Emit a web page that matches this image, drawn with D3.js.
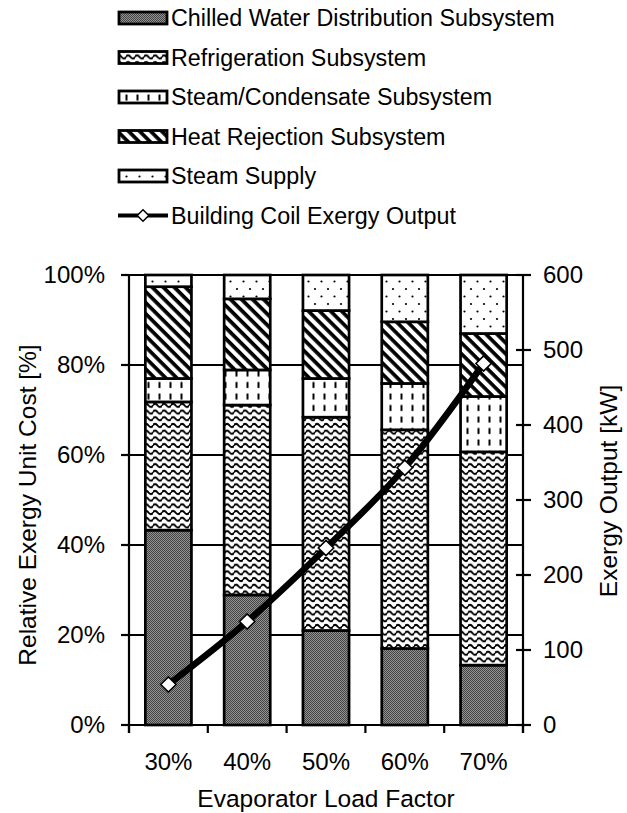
<!DOCTYPE html>
<html>
<head>
<meta charset="utf-8">
<script src="https://cdn.jsdelivr.net/npm/d3@7"></script>
<style>
  html, body { margin: 0; padding: 0; background: #fff; }
  svg { display: block; font-family: "Liberation Sans", Arial, sans-serif; }
</style>
</head>
<body>
<svg id="chart" width="627" height="813"></svg>
<script>
// Evaporator load factor categories
const categories = ["30%", "40%", "50%", "60%", "70%"];

// Relative exergy unit cost shares [%] per subsystem
const chilledWater    = [43.3, 28.9, 21.0, 17.0, 13.3];
const refrigeration   = [28.5, 42.2, 47.4, 48.6, 47.4];
const steamCondensate = [5.2, 7.8, 8.6, 10.3, 12.3];
const heatRejection   = [20.4, 15.8, 15.1, 13.7, 14.0];
const steamSupply     = [2.6, 5.3, 7.9, 10.4, 13.0];

// Building coil exergy output [kW]
const exergyOutput = [54, 138, 236, 343, 482];

// Axis ticks
const leftTicks = [0, 20, 40, 60, 80, 100];
const rightTicks = [0, 100, 200, 300, 400, 500, 600];

const seriesNames = [
  "Chilled Water Distribution Subsystem",
  "Refrigeration Subsystem",
  "Steam/Condensate Subsystem",
  "Heat Rejection Subsystem",
  "Steam Supply"
];
const seriesKeys = ["chw", "ref", "stc", "hrj", "sts"];
const lineName = "Building Coil Exergy Output";

const rows = categories.map((c, i) => ({
  cat: c,
  chw: chilledWater[i],
  ref: refrigeration[i],
  stc: steamCondensate[i],
  hrj: heatRejection[i],
  sts: steamSupply[i]
}));

const svg = d3.select("#chart");
const plotLeft = 129, plotRight = 523, plotTop = 275, plotBottom = 725;

const x = d3.scaleBand().domain(categories).range([plotLeft, plotRight])
  .paddingInner(0.415).paddingOuter(0.2075);
const y = d3.scaleLinear().domain([0, 100]).range([plotBottom, plotTop]);
const y2 = d3.scaleLinear().domain([0, 600]).range([plotBottom, plotTop]);

// ---- fill patterns ----
const defs = svg.append("defs");

// fine dithered grey
const pGrey = defs.append("pattern").attr("id", "p-chw")
  .attr("patternUnits", "userSpaceOnUse").attr("width", 2).attr("height", 2);
pGrey.append("rect").attr("width", 2).attr("height", 2).attr("fill", "#939393");
pGrey.append("rect").attr("width", 1).attr("height", 1).attr("fill", "#434343");
pGrey.append("rect").attr("x", 1).attr("y", 1).attr("width", 1).attr("height", 1).attr("fill", "#434343");

// wavy lines
const pWave = defs.append("pattern").attr("id", "p-ref")
  .attr("patternUnits", "userSpaceOnUse").attr("width", 9).attr("height", 6.7);
pWave.append("rect").attr("width", 9).attr("height", 6.7).attr("fill", "#fff");
pWave.append("path").attr("d", "M-0.5,3.35 Q2.25,0.2 4.5,3.35 T9.5,3.35")
  .attr("fill", "none").attr("stroke", "#000").attr("stroke-width", 2);

// short vertical dashes
const pDash = defs.append("pattern").attr("id", "p-stc")
  .attr("patternUnits", "userSpaceOnUse").attr("width", 11).attr("height", 11.5);
pDash.append("rect").attr("width", 11).attr("height", 11.5).attr("fill", "#fff");
pDash.append("rect").attr("x", 4.5).attr("y", 2.5).attr("width", 2).attr("height", 6).attr("fill", "#000");

// wide diagonal stripes
const pDiag = defs.append("pattern").attr("id", "p-hrj")
  .attr("patternUnits", "userSpaceOnUse").attr("width", 7.8).attr("height", 7.8)
  .attr("patternTransform", "rotate(45)");
pDiag.append("rect").attr("width", 7.8).attr("height", 7.8).attr("fill", "#fff");
pDiag.append("rect").attr("x", 0).attr("y", 0).attr("width", 7.8).attr("height", 3.7).attr("fill", "#000");

// sparse staggered dots
const pDots = defs.append("pattern").attr("id", "p-sts")
  .attr("patternUnits", "userSpaceOnUse").attr("width", 13).attr("height", 15);
pDots.append("rect").attr("width", 13).attr("height", 15).attr("fill", "#fff");
pDots.append("circle").attr("cx", 3).attr("cy", 4).attr("r", 1.1).attr("fill", "#000");
pDots.append("circle").attr("cx", 9.5).attr("cy", 11.5).attr("r", 1.1).attr("fill", "#000");

// ---- gridlines ----
svg.append("g").selectAll("line").data(leftTicks).join("line")
  .attr("x1", plotLeft).attr("x2", plotRight)
  .attr("y1", d => y(d)).attr("y2", d => y(d))
  .attr("stroke", "#000").attr("stroke-width", 2);

// ---- stacked bars ----
const stack = d3.stack().keys(seriesKeys)(rows);
svg.append("g").selectAll("g").data(stack).join("g")
  .attr("fill", d => `url(#p-${d.key})`)
  .selectAll("rect").data(d => d).join("rect")
  .attr("x", d => x(d.data.cat))
  .attr("width", x.bandwidth())
  .attr("y", d => y(d[1]))
  .attr("height", d => y(d[0]) - y(d[1]))
  .attr("stroke", "#000").attr("stroke-width", 2.7);

// ---- axes ----
const axisG = svg.append("g").attr("stroke", "#000").attr("stroke-width", 2.2);
// left axis line and ticks
axisG.append("line").attr("x1", plotLeft).attr("x2", plotLeft).attr("y1", plotTop).attr("y2", plotBottom + 8);
axisG.selectAll(".lt").data(leftTicks).join("line").attr("class", "lt")
  .attr("x1", plotLeft - 8).attr("x2", plotLeft).attr("y1", d => y(d)).attr("y2", d => y(d));
// right axis line and ticks
axisG.append("line").attr("x1", plotRight).attr("x2", plotRight).attr("y1", plotTop).attr("y2", plotBottom + 8);
axisG.selectAll(".rt").data(rightTicks).join("line").attr("class", "rt")
  .attr("x1", plotRight - 7).attr("x2", plotRight + 8).attr("y1", d => y2(d)).attr("y2", d => y2(d));
// bottom axis ticks at category boundaries
const step = x.step();
const boundaries = d3.range(categories.length + 1).map(i => plotLeft + i * step);
axisG.selectAll(".bt").data(boundaries).join("line").attr("class", "bt")
  .attr("x1", d => d).attr("x2", d => d).attr("y1", plotBottom).attr("y2", plotBottom + 8);
axisG.append("line").attr("x1", plotLeft).attr("x2", plotRight).attr("y1", plotBottom).attr("y2", plotBottom);

// tick labels
svg.append("g").selectAll("text").data(leftTicks).join("text")
  .attr("x", 105).attr("y", d => y(d)).attr("dy", "0.35em")
  .attr("text-anchor", "end").attr("font-size", 24).text(d => d + "%");
svg.append("g").selectAll("text").data(rightTicks).join("text")
  .attr("x", 543).attr("y", d => y2(d)).attr("dy", "0.35em")
  .attr("text-anchor", "start").attr("font-size", 24).text(d => d);
svg.append("g").selectAll("text").data(categories).join("text")
  .attr("x", d => x(d) + x.bandwidth() / 2).attr("y", 762).attr("dy", "0.35em")
  .attr("text-anchor", "middle").attr("font-size", 24).text(d => d);

// axis titles
svg.append("text").attr("x", 326).attr("y", 798).attr("dy", "0.35em")
  .attr("text-anchor", "middle").attr("font-size", 24.5).text("Evaporator Load Factor");
svg.append("text").attr("transform", "translate(27,505) rotate(-90)").attr("dy", "0.35em")
  .attr("text-anchor", "middle").attr("font-size", 24.5).text("Relative Exergy Unit Cost [%]");
svg.append("text").attr("transform", "translate(608,491) rotate(-90)").attr("dy", "0.35em")
  .attr("text-anchor", "middle").attr("font-size", 24.5).text("Exergy Output [kW]");

// ---- exergy output line ----
const pts = categories.map((c, i) => [x(c) + x.bandwidth() / 2, y2(exergyOutput[i])]);
svg.append("path").datum(pts)
  .attr("d", d3.line().curve(d3.curveCatmullRom.alpha(0.5)))
  .attr("fill", "none").attr("stroke", "#000").attr("stroke-width", 6.5)
  .attr("stroke-linejoin", "round");
const diamond = d3.symbol().type(d3.symbolDiamond2).size(150);
svg.append("g").selectAll("path").data(pts).join("path")
  .attr("transform", d => `translate(${d[0]},${d[1]})`)
  .attr("d", diamond)
  .attr("fill", "#fff").attr("stroke", "#000").attr("stroke-width", 1.6);

// ---- legend ----
const legend = svg.append("g");
const rowY = i => 18 + i * 39.5;
seriesNames.forEach((name, i) => {
  legend.append("rect")
    .attr("x", 119).attr("y", rowY(i) - 6).attr("width", 48).attr("height", 12)
    .attr("fill", `url(#p-${seriesKeys[i]})`)
    .attr("stroke", "#000").attr("stroke-width", 2.8);
  legend.append("text").attr("x", 171).attr("y", rowY(i)).attr("dy", "0.35em")
    .attr("font-size", 23.3).text(name);
});
const ly = rowY(5);
legend.append("line").attr("x1", 118).attr("x2", 168).attr("y1", ly).attr("y2", ly)
  .attr("stroke", "#000").attr("stroke-width", 4);
legend.append("path").attr("transform", `translate(143,${ly})`)
  .attr("d", d3.symbol().type(d3.symbolDiamond2).size(85))
  .attr("fill", "#fff").attr("stroke", "#000").attr("stroke-width", 1.5);
legend.append("text").attr("x", 171).attr("y", ly).attr("dy", "0.35em")
  .attr("font-size", 23.3).text(lineName);
</script>
</body>
</html>
